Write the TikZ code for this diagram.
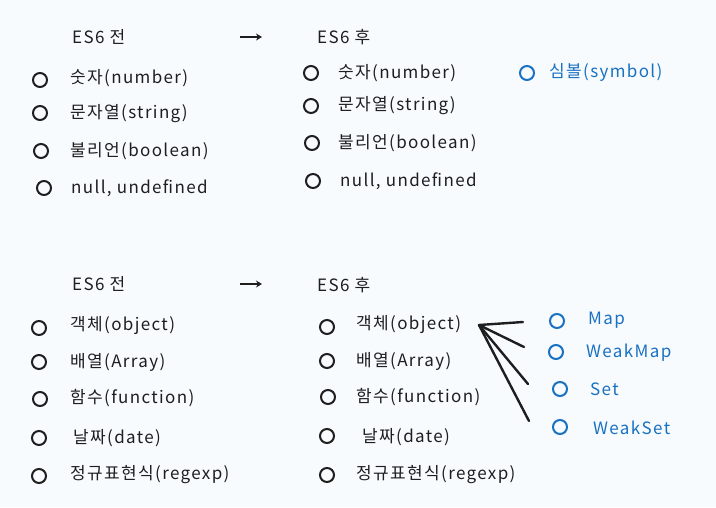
\documentclass[tikz,border=0pt]{standalone}
\usepackage{fontspec}
\setmainfont{Noto Sans CJK KR}[LetterSpace=8]
\usetikzlibrary{arrows.meta}
\definecolor{ink}{HTML}{1E1E1E}
\definecolor{blu}{HTML}{1971C2}
\definecolor{bg}{HTML}{F8FBFE}
\begin{document}
\begin{tikzpicture}[x=1pt,y=-1pt,
  txt/.style={anchor=west,inner sep=0pt,font=\fontsize{17}{20}\selectfont,text=ink},
  btxt/.style={txt,text=blu},
  dot/.style={circle,draw=ink,line width=2pt,minimum size=14pt,inner sep=0pt},
  bdot/.style={dot,draw=blu},
  conn/.style={draw=ink,line width=2.4pt,line cap=round},
  arr/.style={draw=ink,line width=2pt,-{Stealth[length=6pt,width=7pt]}}]
\fill[bg] (0,0) rectangle (716,507);
\useasboundingbox (0,0) rectangle (716,507);
% top-left
\node[txt] (h1) at (72,37) {ES6 전};
\coordinate (a1s) at (240,37); \coordinate (a1e) at (262,37);
\draw[arr] (a1s) -- (a1e);
\node[txt] (h2) at (317,37) {ES6 후};
\node[dot] (c11) at (40,80) {}; \node[txt] (t11) at (70,78) {숫자(number)};
\node[dot] (c12) at (40,113) {}; \node[txt] (t12) at (70,114) {문자열(string)};
\node[dot] (c13) at (41,151) {}; \node[txt] (t13) at (70,151) {불리언(boolean)};
\node[dot] (c14) at (44,188) {}; \node[txt] (t14) at (71,188) {null, undefined};
% top-right
\node[dot] (c21) at (311,73) {}; \node[txt] (t21) at (338,73) {숫자(number)};
\node[dot] (c22) at (311,106) {}; \node[txt] (t22) at (338,106) {문자열(string)};
\node[dot] (c23) at (312,143) {}; \node[txt] (t23) at (338,143) {불리언(boolean)};
\node[dot] (c24) at (313,181) {}; \node[txt] (t24) at (340,181) {null, undefined};
\node[bdot] (c25) at (527,73) {}; \node[btxt] (t25) at (549,72) {심볼(symbol)};
% bottom-left
\node[txt] (h3) at (72,284) {ES6 전};
\coordinate (a2s) at (240,284); \coordinate (a2e) at (262,284);
\draw[arr] (a2s) -- (a2e);
\node[txt] (h4) at (317,285) {ES6 후};
\node[dot] (c31) at (39,328) {}; \node[txt] (t31) at (70,326) {객체(object)};
\node[dot] (c32) at (39,362) {}; \node[txt] (t32) at (70,362) {배열(Array)};
\node[dot] (c33) at (40,399) {}; \node[txt] (t33) at (70,398) {함수(function)};
\node[dot] (c34) at (39,438) {}; \node[txt] (t34) at (73,438) {날짜(date)};
\node[dot] (c35) at (39,476) {}; \node[txt] (t35) at (70,475) {정규표현식(regexp)};
% bottom-right
\node[dot] (c41) at (327,327) {}; \node[txt] (t41) at (356,325) {객체(object)};
\node[dot] (c42) at (327,361) {}; \node[txt] (t42) at (356,361) {배열(Array)};
\node[dot] (c43) at (328,397) {}; \node[txt] (t43) at (356,397) {함수(function)};
\node[dot] (c44) at (327,436) {}; \node[txt] (t44) at (362,437) {날짜(date)};
\node[dot] (c45) at (327,475) {}; \node[txt] (t45) at (356,475) {정규표현식(regexp)};
\node[bdot] (c51) at (557,321) {}; \node[btxt] (t51) at (588,320) {Map};
\node[bdot] (c52) at (556,352) {}; \node[btxt] (t52) at (586,353) {WeakMap};
\node[bdot] (c53) at (560,389) {}; \node[btxt] (t53) at (590,389) {Set};
\node[bdot] (c54) at (560,427) {}; \node[btxt] (t54) at (593,428) {WeakSet};
\coordinate (hub) at (479,325);
\coordinate (e1) at (523,322); \coordinate (e2) at (524,347);
\coordinate (e3) at (528,384); \coordinate (e4) at (529,421);
\draw[conn] (hub) -- (e1);
\draw[conn] (hub) -- (e2);
\draw[conn] (hub) -- (e3);
\draw[conn] (hub) -- (e4);
\end{tikzpicture}
\end{document}
